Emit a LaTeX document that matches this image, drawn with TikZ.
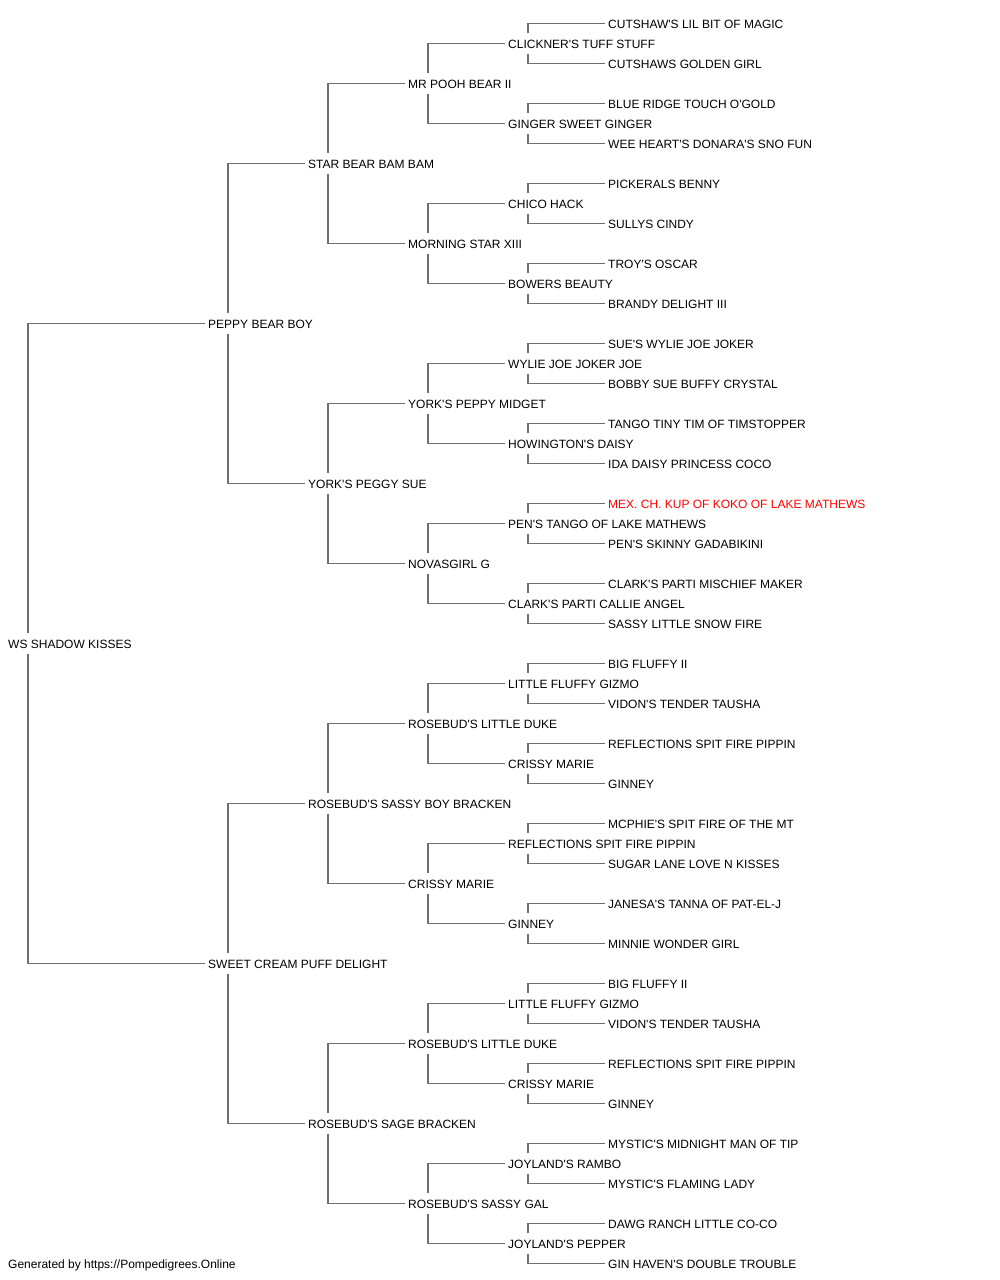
\documentclass[tikz,border=0pt]{standalone}
\usepackage{fontspec}
\setmainfont{Liberation Sans}[Ligatures=TeXOff]
\usetikzlibrary{backgrounds}
\definecolor{linegray}{HTML}{707070}
\definecolor{hired}{HTML}{FF0000}
\begin{document}
\begin{tikzpicture}[x=1pt,y=-1pt,
  dog/.style={anchor=west,fill=white,inner xsep=3pt,inner ysep=5.5pt,
    text height=10pt,text depth=0pt,font=\fontsize{12}{14}\selectfont},
  conn/.style={draw=linegray,line width=1.7pt}]
\useasboundingbox (0,0) rectangle (1000,1280);
% generation 0
\node[dog] (r) at (5,643.5) {WS SHADOW KISSES};
% generation 1
\node[dog] (n0) at (205,323.5) {PEPPY BEAR BOY};
\node[dog] (n1) at (205,963.5) {SWEET CREAM PUFF DELIGHT};
% generation 2
\node[dog] (n00) at (305,163.5) {STAR BEAR BAM BAM};
\node[dog] (n01) at (305,483.5) {YORK'S PEGGY SUE};
\node[dog] (n10) at (305,803.5) {ROSEBUD'S SASSY BOY BRACKEN};
\node[dog] (n11) at (305,1123.5) {ROSEBUD'S SAGE BRACKEN};
% generation 3
\node[dog] (n000) at (405,83.5) {MR POOH BEAR II};
\node[dog] (n001) at (405,243.5) {MORNING STAR XIII};
\node[dog] (n010) at (405,403.5) {YORK'S PEPPY MIDGET};
\node[dog] (n011) at (405,563.5) {NOVASGIRL G};
\node[dog] (n100) at (405,723.5) {ROSEBUD'S LITTLE DUKE};
\node[dog] (n101) at (405,883.5) {CRISSY MARIE};
\node[dog] (n110) at (405,1043.5) {ROSEBUD'S LITTLE DUKE};
\node[dog] (n111) at (405,1203.5) {ROSEBUD'S SASSY GAL};
% generation 4
\node[dog] (n0000) at (505,43.5) {CLICKNER'S TUFF STUFF};
\node[dog] (n0001) at (505,123.5) {GINGER SWEET GINGER};
\node[dog] (n0010) at (505,203.5) {CHICO HACK};
\node[dog] (n0011) at (505,283.5) {BOWERS BEAUTY};
\node[dog] (n0100) at (505,363.5) {WYLIE JOE JOKER JOE};
\node[dog] (n0101) at (505,443.5) {HOWINGTON'S DAISY};
\node[dog] (n0110) at (505,523.5) {PEN'S TANGO OF LAKE MATHEWS};
\node[dog] (n0111) at (505,603.5) {CLARK'S PARTI CALLIE ANGEL};
\node[dog] (n1000) at (505,683.5) {LITTLE FLUFFY GIZMO};
\node[dog] (n1001) at (505,763.5) {CRISSY MARIE};
\node[dog] (n1010) at (505,843.5) {REFLECTIONS SPIT FIRE PIPPIN};
\node[dog] (n1011) at (505,923.5) {GINNEY};
\node[dog] (n1100) at (505,1003.5) {LITTLE FLUFFY GIZMO};
\node[dog] (n1101) at (505,1083.5) {CRISSY MARIE};
\node[dog] (n1110) at (505,1163.5) {JOYLAND'S RAMBO};
\node[dog] (n1111) at (505,1243.5) {JOYLAND'S PEPPER};
% generation 5
\node[dog] (n00000) at (605,23.5) {CUTSHAW'S LIL BIT OF MAGIC};
\node[dog] (n00001) at (605,63.5) {CUTSHAWS GOLDEN GIRL};
\node[dog] (n00010) at (605,103.5) {BLUE RIDGE TOUCH O'GOLD};
\node[dog] (n00011) at (605,143.5) {WEE HEART'S DONARA'S SNO FUN};
\node[dog] (n00100) at (605,183.5) {PICKERALS BENNY};
\node[dog] (n00101) at (605,223.5) {SULLYS CINDY};
\node[dog] (n00110) at (605,263.5) {TROY'S OSCAR};
\node[dog] (n00111) at (605,303.5) {BRANDY DELIGHT III};
\node[dog] (n01000) at (605,343.5) {SUE'S WYLIE JOE JOKER};
\node[dog] (n01001) at (605,383.5) {BOBBY SUE BUFFY CRYSTAL};
\node[dog] (n01010) at (605,423.5) {TANGO TINY TIM OF TIMSTOPPER};
\node[dog] (n01011) at (605,463.5) {IDA DAISY PRINCESS COCO};
\node[dog,text=hired] (n01100) at (605,503.5) {MEX. CH. KUP OF KOKO OF LAKE MATHEWS};
\node[dog] (n01101) at (605,543.5) {PEN'S SKINNY GADABIKINI};
\node[dog] (n01110) at (605,583.5) {CLARK'S PARTI MISCHIEF MAKER};
\node[dog] (n01111) at (605,623.5) {SASSY LITTLE SNOW FIRE};
\node[dog] (n10000) at (605,663.5) {BIG FLUFFY II};
\node[dog] (n10001) at (605,703.5) {VIDON'S TENDER TAUSHA};
\node[dog] (n10010) at (605,743.5) {REFLECTIONS SPIT FIRE PIPPIN};
\node[dog] (n10011) at (605,783.5) {GINNEY};
\node[dog] (n10100) at (605,823.5) {MCPHIE'S SPIT FIRE OF THE MT};
\node[dog] (n10101) at (605,863.5) {SUGAR LANE LOVE N KISSES};
\node[dog] (n10110) at (605,903.5) {JANESA'S TANNA OF PAT-EL-J};
\node[dog] (n10111) at (605,943.5) {MINNIE WONDER GIRL};
\node[dog] (n11000) at (605,983.5) {BIG FLUFFY II};
\node[dog] (n11001) at (605,1023.5) {VIDON'S TENDER TAUSHA};
\node[dog] (n11010) at (605,1063.5) {REFLECTIONS SPIT FIRE PIPPIN};
\node[dog] (n11011) at (605,1103.5) {GINNEY};
\node[dog] (n11100) at (605,1143.5) {MYSTIC'S MIDNIGHT MAN OF TIP};
\node[dog] (n11101) at (605,1183.5) {MYSTIC'S FLAMING LADY};
\node[dog] (n11110) at (605,1223.5) {DAWG RANCH LITTLE CO-CO};
\node[dog] (n11111) at (605,1263.5) {GIN HAVEN'S DOUBLE TROUBLE};
% footer
\node[dog] (foot) at (5,1263.5) {Generated by https://Pompedigrees.Online};
% connectors
\begin{scope}[on background layer]
\fill[white] (0,0) rectangle (1000,1280);
\draw[conn] ([xshift=23pt]r.west) |- (n0.west);
\draw[conn] ([xshift=23pt]r.west) |- (n1.west);
\foreach \p in {0,1,00,01,10,11,000,001,010,011,100,101,110,111,
  0000,0001,0010,0011,0100,0101,0110,0111,1000,1001,1010,1011,1100,1101,1110,1111}{
  \draw[conn] ([xshift=23pt]n\p.west) |- (n\p0.west);
  \draw[conn] ([xshift=23pt]n\p.west) |- (n\p1.west);
}
\end{scope}
\end{tikzpicture}
\end{document}
